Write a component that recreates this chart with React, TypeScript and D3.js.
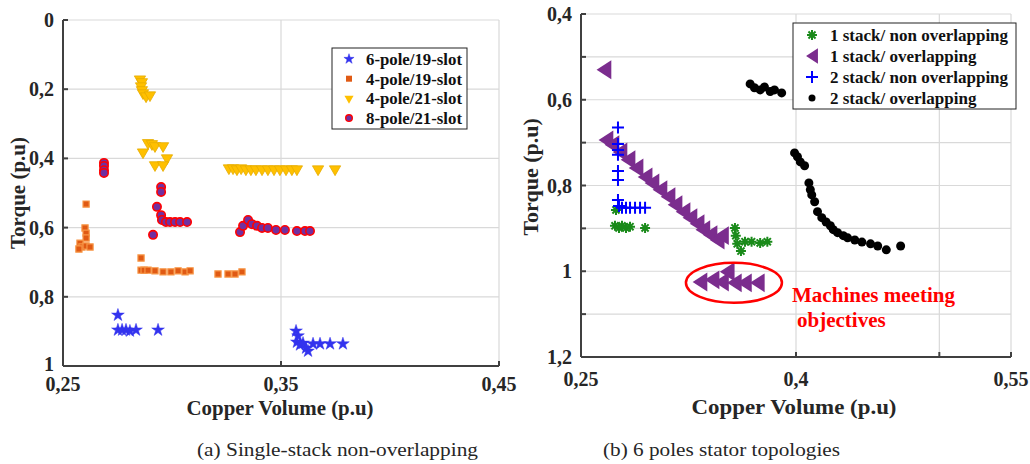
import React from "react";
import * as d3 from "d3";

// ---------- Left chart data (Copper volume, Torque) ----------
const leftXTicks = [0.25, 0.35, 0.45];
const leftYTicks = [0, 0.2, 0.4, 0.6, 0.8, 1];
const leftSeriesNames = ["6-pole/19-slot", "4-pole/19-slot", "4-pole/21-slot", "8-pole/21-slot"];

const pole6slot19: [number, number][] = [
  [0.2752, 0.853], [0.2752, 0.896], [0.2771, 0.896], [0.2789, 0.896], [0.2807, 0.899],
  [0.2835, 0.896], [0.2936, 0.896], [0.3569, 0.899], [0.3578, 0.913], [0.3573, 0.931],
  [0.3587, 0.939], [0.3601, 0.934], [0.3615, 0.948], [0.3624, 0.957], [0.3647, 0.936],
  [0.3679, 0.936], [0.3725, 0.936], [0.3784, 0.936],
];
const pole4slot19: [number, number][] = [
  [0.2606, 0.532], [0.2601, 0.601], [0.2606, 0.616], [0.2606, 0.63], [0.2578, 0.645],
  [0.2587, 0.656], [0.2573, 0.662], [0.2606, 0.653], [0.2624, 0.656], [0.2858, 0.688],
  [0.2858, 0.723], [0.2872, 0.723], [0.289, 0.723], [0.2922, 0.725], [0.2959, 0.728],
  [0.2995, 0.728], [0.3028, 0.725], [0.306, 0.728], [0.3083, 0.725], [0.3211, 0.734],
  [0.3257, 0.734], [0.3289, 0.734], [0.3321, 0.728],
];
const pole4slot21: [number, number][] = [
  [0.2853, 0.171], [0.2862, 0.179], [0.2858, 0.191], [0.2862, 0.202], [0.2867, 0.211],
  [0.2881, 0.22], [0.2899, 0.217], [0.2867, 0.382], [0.289, 0.355], [0.2908, 0.358],
  [0.2922, 0.364], [0.2959, 0.364], [0.2977, 0.399], [0.2922, 0.419], [0.2959, 0.419],
  [0.3261, 0.428], [0.328, 0.428], [0.3298, 0.431], [0.3317, 0.428], [0.3339, 0.431],
  [0.3362, 0.431], [0.3385, 0.431], [0.3413, 0.431], [0.344, 0.431], [0.3468, 0.431],
  [0.3495, 0.431], [0.3523, 0.431], [0.355, 0.431], [0.3573, 0.431], [0.367, 0.431],
  [0.3748, 0.431],
];
const pole8slot21: [number, number][] = [
  [0.2688, 0.413], [0.2688, 0.422], [0.2688, 0.434], [0.2688, 0.442], [0.295, 0.483],
  [0.295, 0.497], [0.2931, 0.54], [0.295, 0.564], [0.2954, 0.578], [0.2913, 0.621],
  [0.2972, 0.584], [0.2991, 0.584], [0.3014, 0.584], [0.3037, 0.584], [0.3069, 0.584],
  [0.3312, 0.613], [0.3326, 0.595], [0.3349, 0.578], [0.3367, 0.59], [0.339, 0.595],
  [0.3413, 0.601], [0.344, 0.601], [0.3477, 0.607], [0.3518, 0.607], [0.3573, 0.61],
  [0.361, 0.61], [0.3633, 0.61],
];

// ---------- Right chart data ----------
const rightXTickLabels = [0.25, 0.4, 0.55];
const rightXGrid = [0.4, 0.5, 0.55];
const rightYGrid = [0.4, 0.5, 0.6, 0.7, 0.8, 0.9, 1, 1.1];
const rightYTickLabels = [0.4, 0.6, 0.8, 1, 1.2];
const rightSeriesNames = ["1 stack/ non overlapping", "1 stack/ overlapping", "2 stack/ non overlapping", "2 stack/ overlapping"];

const stack1NonOverlap: [number, number][] = [
  [0.2744, 0.857], [0.2737, 0.894], [0.2765, 0.899], [0.2786, 0.894], [0.2814, 0.899],
  [0.2842, 0.896], [0.2947, 0.899], [0.3574, 0.899], [0.358, 0.917], [0.359, 0.936],
  [0.3616, 0.953], [0.3644, 0.931], [0.369, 0.931], [0.375, 0.934], [0.38, 0.931],
];
const stack1Overlap: [number, number][] = [
  [0.266, 0.53], [0.2674, 0.694], [0.2716, 0.705], [0.2772, 0.722], [0.2828, 0.74],
  [0.2884, 0.759], [0.2947, 0.78], [0.2995, 0.794], [0.3051, 0.81], [0.3107, 0.826],
  [0.3156, 0.845], [0.3212, 0.861], [0.326, 0.875], [0.331, 0.889], [0.335, 0.903],
  [0.34, 0.915], [0.345, 0.927], [0.348, 0.917],
  [0.333, 1.025], [0.3414, 1.02], [0.348, 1.025], [0.352, 1.001], [0.357, 1.027],
  [0.364, 1.027], [0.373, 1.027],
];
const stack2NonOverlap: [number, number][] = [
  [0.2758, 0.665], [0.2758, 0.703], [0.2758, 0.717], [0.2758, 0.728], [0.2758, 0.766],
  [0.2758, 0.787], [0.2758, 0.834], [0.2765, 0.848], [0.2786, 0.852], [0.2814, 0.852],
  [0.2842, 0.852], [0.2877, 0.852], [0.2912, 0.852], [0.2947, 0.852],
];
const stack2Overlap: [number, number][] = [
  [0.368, 0.563], [0.371, 0.572], [0.375, 0.577], [0.378, 0.57], [0.382, 0.581],
  [0.385, 0.577], [0.39, 0.584], [0.399, 0.724], [0.401, 0.733], [0.403, 0.745],
  [0.406, 0.754], [0.409, 0.794], [0.41, 0.81], [0.411, 0.822], [0.413, 0.838],
  [0.415, 0.861], [0.418, 0.875], [0.421, 0.885], [0.424, 0.894], [0.426, 0.903],
  [0.429, 0.91], [0.433, 0.917], [0.436, 0.922], [0.441, 0.927], [0.446, 0.932],
  [0.452, 0.936], [0.457, 0.941], [0.463, 0.95], [0.473, 0.941],
];
const highlightCenter: [number, number] = [0.3567, 1.027];

const FONT = "'Liberation Serif', 'Times New Roman', serif";
const GRID = "#d9d9d9";
const AXIS = "#404040";
const TXT = "#262626";

const fmt = (v: number) => String(+v.toFixed(2)).replace(".", ",");

const starPath = d3.symbol(d3.symbolStar, 50)()!;
const starSmall = d3.symbol(d3.symbolStar, 32)()!;
const squarePath = d3.symbol(d3.symbolSquare, 38)()!;
const triPath = d3.symbol(d3.symbolTriangle, 55)()!;

const Star = ({ x, y, small }: { x: number; y: number; small?: boolean }) => (
  <path d={small ? starSmall : starPath} transform={`translate(${x},${y})`} fill="#3333ee" stroke="#3333ee" strokeWidth={0.5} />
);
const Square = ({ x, y }: { x: number; y: number }) => (
  <path d={squarePath} transform={`translate(${x},${y})`} fill="#e05a14" stroke="#f79646" strokeWidth={1.2} />
);
const TriDown = ({ x, y }: { x: number; y: number }) => (
  <path d={triPath} transform={`translate(${x},${y}) rotate(180)`} fill="#ffc000" stroke="#e6ac00" strokeWidth={0.8} />
);
const RedCircle = ({ x, y }: { x: number; y: number }) => (
  <circle cx={x} cy={y} r={4.2} fill="#7030a0" stroke="#ff0000" strokeWidth={1.6} />
);
const Asterisk = ({ x, y }: { x: number; y: number }) => {
  const r = 5;
  const d = [0, 45, 90, 135]
    .map((a) => {
      const t = (a * Math.PI) / 180;
      return `M${-r * Math.cos(t)},${-r * Math.sin(t)}L${r * Math.cos(t)},${r * Math.sin(t)}`;
    })
    .join("");
  return <path d={d} transform={`translate(${x},${y})`} stroke="#1a8a1a" strokeWidth={2} fill="none" />;
};
const TriLeft = ({ x, y, s = 1 }: { x: number; y: number; s?: number }) => (
  <path d={`M${-7 * s},0L${7 * s},${-9 * s}L${7 * s},${9 * s}Z`} transform={`translate(${x},${y})`} fill="#7b2d8e" />
);
const Plus = ({ x, y }: { x: number; y: number }) => (
  <path d="M-6,0L6,0M0,-6L0,6" transform={`translate(${x},${y})`} stroke="#0000ff" strokeWidth={2} fill="none" />
);
const Dot = ({ x, y }: { x: number; y: number }) => <circle cx={x} cy={y} r={4.5} fill="#000" />;

export default function App() {
  // Left chart scales
  const xL = d3.scaleLinear().domain([0.25, 0.45]).range([63, 499]);
  const yL = d3.scaleLinear().domain([0, 1]).range([20, 366]);
  // Right chart scales
  const xR = d3.scaleLinear().domain([0.25, 0.55]).range([581, 1011]);
  const yR = d3.scaleLinear().domain([0.4, 1.2]).range([14, 357]);

  return (
    <svg width={1030} height={464} style={{ position: "absolute", left: 0, top: 0, background: "#fff" }} fontFamily={FONT}>
      {/* ---------------- LEFT CHART ---------------- */}
      <g>
        {leftYTicks.slice(0, -1).map((t) => (
          <line key={"lg" + t} x1={xL(0.25)} x2={xL(0.45)} y1={yL(t)} y2={yL(t)} stroke={GRID} strokeWidth={1.2} />
        ))}
        {[0.35, 0.45].map((t) => (
          <line key={"lv" + t} x1={xL(t)} x2={xL(t)} y1={yL(0)} y2={yL(1)} stroke={GRID} strokeWidth={1.2} />
        ))}
        {pole4slot19.map((p, i) => <Square key={"s" + i} x={xL(p[0])} y={yL(p[1])} />)}
        {pole4slot21.map((p, i) => <TriDown key={"t" + i} x={xL(p[0])} y={yL(p[1])} />)}
        {pole8slot21.map((p, i) => <RedCircle key={"c" + i} x={xL(p[0])} y={yL(p[1])} />)}
        {pole6slot19.map((p, i) => <Star key={"st" + i} x={xL(p[0])} y={yL(p[1])} />)}

        {/* axes */}
        <line x1={xL(0.25)} x2={xL(0.25)} y1={yL(0)} y2={yL(1)} stroke={AXIS} strokeWidth={2} />
        <line x1={xL(0.25)} x2={xL(0.45)} y1={yL(1)} y2={yL(1)} stroke={AXIS} strokeWidth={2} />
        {leftYTicks.map((t) => (
          <g key={"lyt" + t}>
            <line x1={xL(0.25)} x2={xL(0.25) + 5} y1={yL(t)} y2={yL(t)} stroke={AXIS} strokeWidth={2} />
            <text x={xL(0.25) - 9} y={yL(t) - (t === 1 ? 2 : 0)} dy="0.35em" textAnchor="end" fontSize={20} fontWeight="bold" fill={TXT}>
              {fmt(t)}
            </text>
          </g>
        ))}
        {leftXTicks.map((t) => (
          <g key={"lxt" + t}>
            <line x1={xL(t)} x2={xL(t)} y1={yL(1)} y2={yL(1) - 5} stroke={AXIS} strokeWidth={2} />
            <text x={xL(t)} y={391} textAnchor="middle" fontSize={20} fontWeight="bold" fill={TXT}>
              {fmt(t)}
            </text>
          </g>
        ))}
        <text x={280} y={415} textAnchor="middle" fontSize={20} fontWeight="bold" fill={TXT} textLength={187} lengthAdjust="spacingAndGlyphs">
          Copper Volume (p.u)
        </text>
        <text transform={`translate(25,${yL(0.5)}) rotate(-90)`} textAnchor="middle" fontSize={21} fontWeight="bold" fill={TXT}>
          Torque (p.u)
        </text>
        <text x={337.5} y={456} textAnchor="middle" fontSize={18} fill={TXT} textLength={281} lengthAdjust="spacingAndGlyphs">
          (a) Single-stack non-overlapping
        </text>

        {/* legend */}
        <rect x={332} y={48} width={135} height={81} fill="#fff" stroke="#222" strokeWidth={1} />
        {leftSeriesNames.map((n, i) => {
          const yy = 59 + i * 19.7;
          const mx = 349;
          let marker: React.ReactNode;
          if (i === 0) marker = <Star x={mx} y={yy} small />;
          else if (i === 1) marker = <rect x={mx - 3} y={yy - 3} width={6} height={6} fill="#e05a14" />;
          else if (i === 2) marker = <path d={d3.symbol(d3.symbolTriangle, 36)()!} transform={`translate(${mx},${yy}) rotate(180)`} fill="#ffc000" />;
          else marker = <circle cx={mx} cy={yy} r={3.3} fill="#7030a0" stroke="#ff0000" strokeWidth={1.4} />;
          return (
            <g key={"ll" + i}>
              {marker}
              <text x={366} y={yy} dy="0.35em" fontSize={17} fontWeight="bold" fill="#111" textLength={96} lengthAdjust="spacingAndGlyphs">
                {n}
              </text>
            </g>
          );
        })}
      </g>

      {/* ---------------- RIGHT CHART ---------------- */}
      <g>
        {rightYGrid.map((t) => (
          <line key={"rg" + t} x1={xR(0.25)} x2={xR(0.55)} y1={yR(t)} y2={yR(t)} stroke={GRID} strokeWidth={1.2} />
        ))}
        {rightXGrid.map((t) => (
          <line key={"rv" + t} x1={xR(t)} x2={xR(t)} y1={yR(0.4)} y2={yR(1.2)} stroke={GRID} strokeWidth={1.2} />
        ))}
        {stack1Overlap.map((p, i) => <TriLeft key={"tl" + i} x={xR(p[0])} y={yR(p[1])} s={1.05} />)}
        {stack1NonOverlap.map((p, i) => <Asterisk key={"as" + i} x={xR(p[0])} y={yR(p[1])} />)}
        {stack2NonOverlap.map((p, i) => <Plus key={"pl" + i} x={xR(p[0])} y={yR(p[1])} />)}
        {stack2Overlap.map((p, i) => <Dot key={"dt" + i} x={xR(p[0])} y={yR(p[1])} />)}

        {/* axes */}
        <line x1={xR(0.25)} x2={xR(0.25)} y1={yR(0.4)} y2={yR(1.2)} stroke={AXIS} strokeWidth={2} />
        <line x1={xR(0.25)} x2={xR(0.55)} y1={yR(1.2)} y2={yR(1.2)} stroke={AXIS} strokeWidth={2} />
        {rightYGrid.concat([1.2]).map((t) => (
          <line key={"ryt" + t} x1={xR(0.25)} x2={xR(0.25) + 5} y1={yR(t)} y2={yR(t)} stroke={AXIS} strokeWidth={2} />
        ))}
        {rightYTickLabels.map((t) => (
          <text key={"ryl" + t} x={xR(0.25) - 9} y={yR(t)} dy="0.35em" textAnchor="end" fontSize={20} fontWeight="bold" fill={TXT}>
            {fmt(t)}
          </text>
        ))}
        {rightXGrid.map((t) => (
          <line key={"rxt" + t} x1={xR(t)} x2={xR(t)} y1={yR(1.2)} y2={yR(1.2) - 5} stroke={AXIS} strokeWidth={2} />
        ))}
        {rightXTickLabels.map((t) => (
          <text key={"rxl" + t} x={xR(t)} y={386} textAnchor="middle" fontSize={20} fontWeight="bold" fill={TXT}>
            {fmt(t)}
          </text>
        ))}
        <text x={794} y={414} textAnchor="middle" fontSize={21} fontWeight="bold" fill={TXT} textLength={205} lengthAdjust="spacingAndGlyphs">
          Copper Volume (p.u)
        </text>
        <text transform={`translate(538,${yR(0.78)}) rotate(-90)`} textAnchor="middle" fontSize={22} fontWeight="bold" fill={TXT}>
          Torque (p.u)
        </text>
        <text x={721.5} y={456} textAnchor="middle" fontSize={18} fill={TXT} textLength={237} lengthAdjust="spacingAndGlyphs">
          (b) 6 poles stator topologies
        </text>

        {/* annotation */}
        <ellipse cx={xR(highlightCenter[0])} cy={yR(highlightCenter[1])} rx={48} ry={20} fill="none" stroke="#ff0000" strokeWidth={2.5} />
        <text x={792} y={302} fontSize={21} fontWeight="bold" fill="#ff0000" textLength={163} lengthAdjust="spacingAndGlyphs">
          Machines meeting
        </text>
        <text x={797} y={327} fontSize={21} fontWeight="bold" fill="#ff0000">
          objectives
        </text>

        {/* legend */}
        <rect x={793} y={23} width={223} height={86} fill="#fff" stroke="#222" strokeWidth={1} />
        {rightSeriesNames.map((n, i) => {
          const yy = 35 + i * 21;
          const x0 = 812;
          let marker: React.ReactNode;
          if (i === 0) marker = <Asterisk x={x0} y={yy} />;
          else if (i === 1) marker = <TriLeft x={x0} y={yy} s={0.85} />;
          else if (i === 2) marker = <Plus x={x0} y={yy} />;
          else marker = <circle cx={x0} cy={yy} r={3.5} fill="#000" />;
          return (
            <g key={"rl" + i}>
              {marker}
              <text x={830} y={yy} dy="0.35em" fontSize={17} fontWeight="bold" fill="#111">
                {n}
              </text>
            </g>
          );
        })}
      </g>
    </svg>
  );
}
